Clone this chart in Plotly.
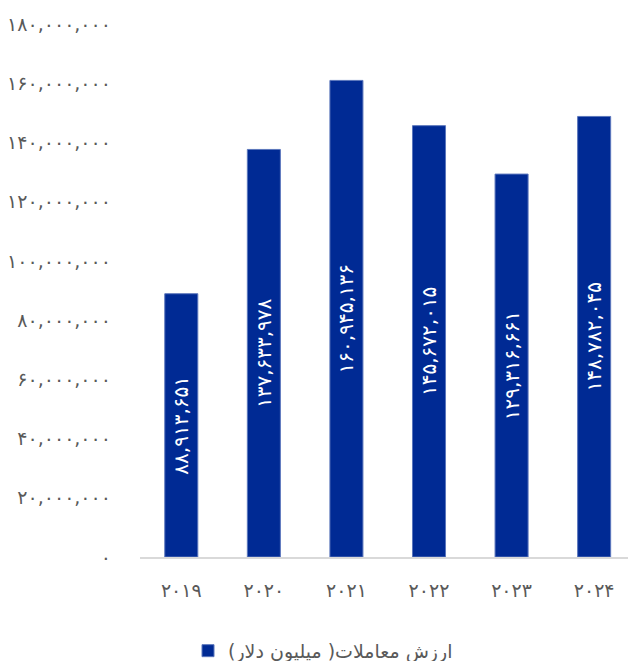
import plotly.graph_objects as go

# Annual trading value (million dollars)
years = ["2019", "2020", "2021", "2022", "2023", "2024"]
values = [88913651, 137633978, 160945136, 145672015, 129316661, 148782045]
y_ticks = [0, 20000000, 40000000, 60000000, 80000000, 100000000,
           120000000, 140000000, 160000000, 180000000]
series_name = "ارزش معاملات( میلیون دلار)"

FA_DIGITS = str.maketrans("0123456789", "۰۱۲۳۴۵۶۷۸۹")


def fa(s):
    return str(s).translate(FA_DIGITS)


def fa_num(n):
    return fa(f"{n:,}")


BAR = "#002A94"
GREY = "#595959"
FONT = "DejaVu Sans"

fig = go.Figure(
    go.Bar(
        x=list(range(len(years))),
        y=values,
        name=series_name,
        marker=dict(color=BAR, line=dict(color="#5B76BC", width=1)),
        text=[fa_num(v) for v in values],
        textposition="inside",
        insidetextanchor="middle",
        textangle=-90,
        textfont=dict(color="white", size=20, family=FONT),
        showlegend=True,
        width=0.4,
    )
)

fig.update_layout(
    width=628,
    height=661,
    margin=dict(l=140, r=0, t=24, b=104, autoexpand=False),
    plot_bgcolor="white",
    paper_bgcolor="white",
    font=dict(family=FONT, color=GREY, size=19),
    uniformtext=dict(mode=False),
    legend=dict(
        orientation="h",
        x=0.375,
        xanchor="center",
        y=-0.176,
        yanchor="middle",
        font=dict(size=19, color=GREY, family=FONT),
    ),
    xaxis=dict(
        range=[-0.5, 5.41],
        tickmode="array",
        tickvals=list(range(len(years))),
        ticktext=[fa(y) for y in years],
        showgrid=False,
        zeroline=False,
        showline=True,
        linecolor="#D9D9D9",
        linewidth=1.5,
        ticks="",
        ticklabelstandoff=15,
        tickfont=dict(size=19, color=GREY, family=FONT),
    ),
    yaxis=dict(
        range=[0, 180000000],
        tickmode="array",
        tickvals=y_ticks,
        ticktext=[fa_num(t) for t in y_ticks],
        showgrid=False,
        zeroline=False,
        showline=False,
        ticks="",
        ticklabelstandoff=28,
        tickfont=dict(size=19, color=GREY, family=FONT),
    ),
)

fig.write_html("out.html")
